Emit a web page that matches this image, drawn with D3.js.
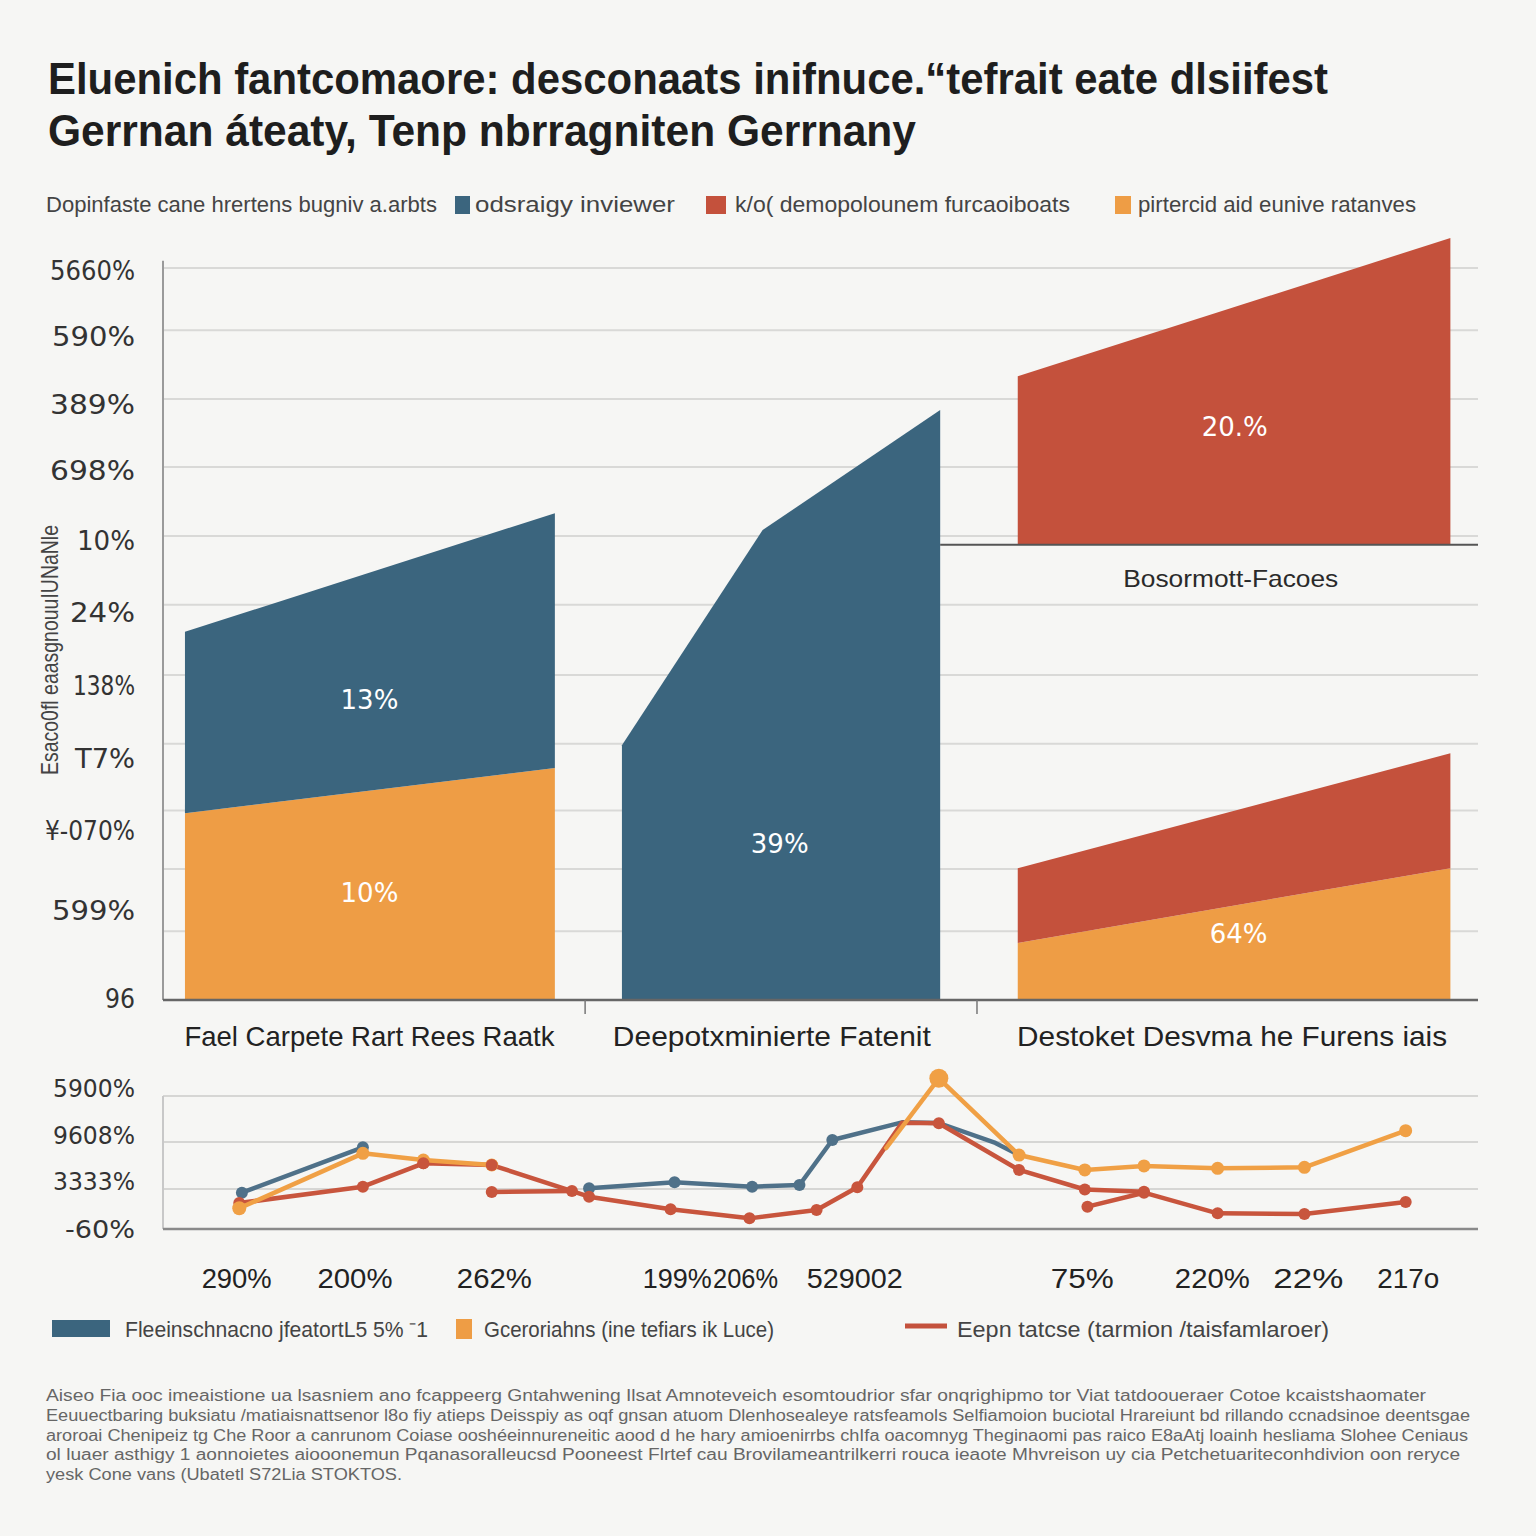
<!DOCTYPE html>
<html><head><meta charset="utf-8">
<script src="https://cdn.jsdelivr.net/npm/d3@7"></script>
<style>
html,body{margin:0;padding:0;background:#f6f6f4;}
svg{display:block;}
</style></head>
<body>
<svg id="chart" width="1536" height="1536"></svg>
<script>
// ---------- DATA ----------
const titleLines = ["Eluenich fantcomaore: desconaats inifnuce.“tefrait eate dlsiifest",
                    "Gerrnan áteaty, Tenp nbrragniten Gerrnany"];
const legendTop = [
  {label:"odsraigy inviewer", color:"#3b657e"},
  {label:"k/o( demopolounem furcaoiboats", color:"#c4513c"},
  {label:"pirtercid aid eunive ratanves", color:"#ee9d45"}
];
const legendTopLead = "Dopinfaste cane hrertens bugniv a.arbts";
const yAxisTitle = "Esaco0fl eaasgnouuIUNaNle";

// top chart
const topGrid = [100, 91.5, 82.1, 72.8, 63.4, 54.0, 44.4, 35.0, 25.9, 17.9, 9.4];
const topTickVals = [99.7, 90.7, 81.4, 72.4, 62.8, 53, 43, 33, 23.2, 12.3, 0.3];
const topTickLabels = ["5660%", "590%", "389%", "698%", "10%", "24%", "138%", "T7%", "¥-070%", "599%", "96"];
const topTickWidths = [85, 83, 85, 85, 58, 65, 62, 60, 90, 83, 30];
const groups = ["Fael Carpete Rart Rees Raatk", "Deepotxminierte Fatenit", "Destoket  Desvma he Furens iais"];
const groupCenters = [15.7, 46.3, 81.3];
const groupSeparators = [32.1, 61.9];

// group 1 (stacked): orange bottom, blue top
const g1x = [1.67, 29.8];
const g1orange = [25.5, 31.7];
const g1blue = [24.8, 34.8];      // stacked increments on top of orange
// group 2 (single blue)
const g2x = [34.9, 45.6, 59.1];
const g2blue = [34.8, 64.2, 80.6];
// group 3 upper: red band above a baseline
const g3x = [65.0, 97.9];
const g3base = 62.2;
const g3upperRed = [85.2, 104.1];
const g3baseSpan = [59.1, 100];
const g3baseLabel = "Bosormott-Facoes";
// group 3 lower (stacked): orange bottom, red top
const g3orange = [7.8, 18.0];
const g3red = [10.2, 15.7];
const valueLabels = [
  {text:"13%", x:15.7, y:41}, {text:"10%", x:15.7, y:14.6},
  {text:"39%", x:46.9, y:21.3}, {text:"20.%", x:81.5, y:78.3},
  {text:"64%", x:81.8, y:9.1}
];

// bottom line chart
const botGrid = [0, 30, 65.4, 100];
const botTickVals = [106, 71, 36, 0];
const botTickLabels = ["5900%", "9608%", "3333%", "-60%"];
const xTickVals = [5.6, 14.6, 25.2, 39.1, 44.3, 52.6, 69.9, 79.8, 87.1, 94.7];
const xTickLabels = ["290%", "200%", "262%", "199%", "206%", "529002", "75%", "220%", "22%", "217o"];
const xTickWidths = [70, 75, 75, 69, 65, 96, 63, 75, 70, 62];

const blueT   = [6.0, 15.2, null, 32.4, 38.9, 44.8, 48.4, 50.9, 56.2, 59.0, 63.3, 65.1];
const blueV   = [27.3, 61.4, null, 30.6, 35.1, 31.8, 33.1, 66.9, 80.2, 79.7, 64.7, 55.6];
const blueDot = [1, 1, 0, 1, 1, 1, 1, 1, 0, 0, 0, 0];
const orangeT = [5.8, 15.2, 19.8, 25.0, null, 55.0, 59.0, 65.1, 70.1, 74.6, 80.2, 86.8, 94.5];
const orangeV = [15.6, 56.9, 51.9, 48.1, null, 60.9, 113.3, 55.6, 44.4, 47.4, 45.6, 46.4, 73.9];
const orangeDot = [1, 1, 1, 1, 0, 0, 1, 1, 1, 1, 1, 1, 1];
const redAT   = [5.8, 15.2, 19.8, 25.0, 32.4, 38.6, 44.6, 49.7, 52.8, 56.2, 59.0, 65.1, 70.1, 74.6];
const redAV   = [19.5, 31.8, 49.4, 48.1, 24.3, 14.8, 8.0, 14.3, 31.4, 79.8, 79.5, 44.4, 29.7, 28.0];
const redADot = [1, 1, 1, 1, 1, 1, 1, 1, 1, 0, 1, 1, 1, 1];
const redBT   = [25.0, 31.1, null, 70.3, 74.6, 80.2, 86.8, 94.5];
const redBV   = [27.8, 28.6, null, 16.8, 27.3, 11.8, 11.3, 20.3];

const legendBottom = [
  {label:"Fleeinschnacno jfeatortL5 5%  ⁻1", color:"#3b657e"},
  {label:"Gceroriahns (ine tefiars ik Luce)", color:"#ee9d45"},
  {label:"Eepn tatcse (tarmion /taisfamlaroer)", color:"#c4513c"}
];
const footLines = [
 "Aiseo Fia ooc imeaistione ua lsasniem ano fcappeerg Gntahwening Ilsat Amnoteveich esomtoudrior sfar onqrighipmo tor Viat tatdooueraer Cotoe kcaistshaomater",
 "Eeuuectbaring buksiatu /matiaisnattsenor l8o fiy atieps Deisspiy as oqf gnsan atuom Dlenhosealeye ratsfeamols  Selfiamoion buciotal Hrareiunt bd rillando ccnadsinoe deentsgae",
 "aroroai Chenipeiz tg Che Roor a canrunom Coiase ooshéeinnureneitic aood d   he hary amioenirrbs chIfa oacomnyg Theginaomi pas raico E8aAtj loainh hesliama Slohee Ceniaus",
 "ol luaer asthigy 1 aonnoietes aiooonemun Pqanasoralleucsd Pooneest Flrtef cau Brovilameantrilkerri rouca ieaote Mhvreison uy cia Petchetuariteconhdivion oon reryce",
 "yesk Cone vans (Ubatetl S72Lia STOKTOS."
];
const footWidths = [1380, 1424, 1422, 1414, 356];

// ---------- DRAW ----------
const C = {blue:"#3b657e", red:"#c4513c", orange:"#ee9d45", lblue:"#4f7189", lred:"#c8553d", lorange:"#f0a045"};
const svg = d3.select("#chart");
svg.append("rect").attr("width",1536).attr("height",1536).attr("fill","#f6f6f4");

function txt(g, s, x, y, opts) {
  const t = g.append("text").attr("x", x).attr("y", y).text(s);
  for (const k in opts) t.attr(k, opts[k]);
  return t;
}

// title
const tw = [1280, 868];
titleLines.forEach((s,i)=>{
  txt(svg, s, 48, 94 + i*52, {"font-family":"Liberation Sans, Arial, sans-serif","font-weight":"bold",
    "font-size":45, fill:"#1e1e1e", textLength:tw[i], lengthAdjust:"spacingAndGlyphs"});
});

// top legend
const legFont = {"font-family":"Liberation Sans, Arial, sans-serif","font-size":22, fill:"#444", lengthAdjust:"spacingAndGlyphs"};
txt(svg, legendTopLead, 46, 212, Object.assign({textLength:391}, legFont));
const ltPos = [{sx:455, sw:15, tx:475, tw:200},{sx:706, sw:20, tx:735, tw:335},{sx:1115, sw:16, tx:1138, tw:278}];
legendTop.forEach((d,i)=>{
  svg.append("rect").attr("x",ltPos[i].sx).attr("y",196).attr("width",ltPos[i].sw).attr("height",18).attr("fill",d.color);
  txt(svg, d.label, ltPos[i].tx, 212, Object.assign({textLength:ltPos[i].tw}, legFont));
});

// top chart scales
const x = d3.scaleLinear().domain([0,100]).range([163,1478]);
const y = d3.scaleLinear().domain([0,100]).range([1000,268]);

const gTop = svg.append("g");
gTop.selectAll("line.grid").data(topGrid).join("line")
  .attr("x1",x(0)).attr("x2",x(100)).attr("y1",d=>y(d)).attr("y2",d=>y(d))
  .attr("stroke","#d9d9d7").attr("stroke-width",2);

// y labels
gTop.selectAll("text.yt").data(topTickVals).join("text")
  .attr("x",135).attr("y",d=>y(d)).attr("dy","0.36em").attr("text-anchor","end")
  .attr("font-family","DejaVu Sans, sans-serif").attr("font-size",27).attr("fill","#333")
  .attr("textLength",(d,i)=>topTickWidths[i]).attr("lengthAdjust","spacingAndGlyphs")
  .text((d,i)=>topTickLabels[i]);

// y-axis title
txt(svg, yAxisTitle, 0, 0, {"font-family":"Liberation Sans, Arial, sans-serif","font-size":24, fill:"#444",
  "text-anchor":"middle", transform:"translate(58,650) rotate(-90)", textLength:250, lengthAdjust:"spacingAndGlyphs"});

const area = d3.area().x(d=>x(d.t)).y0(d=>y(d.y0)).y1(d=>y(d.y1));

// group 1
gTop.append("path").attr("fill",C.orange).attr("d", area(g1x.map((t,i)=>({t, y0:0, y1:g1orange[i]}))));
gTop.append("path").attr("fill",C.blue).attr("d", area(g1x.map((t,i)=>({t, y0:g1orange[i], y1:g1orange[i]+g1blue[i]}))));
// group 2
gTop.append("path").attr("fill",C.blue).attr("d", area(g2x.map((t,i)=>({t, y0:0, y1:g2blue[i]}))));
// group 3 upper
gTop.append("path").attr("fill",C.red).attr("d", area(g3x.map((t,i)=>({t, y0:g3base, y1:g3upperRed[i]}))));
gTop.append("line").attr("x1",x(g3baseSpan[0])).attr("x2",x(g3baseSpan[1])).attr("y1",y(g3base)).attr("y2",y(g3base))
  .attr("stroke","#555").attr("stroke-width",2);
txt(gTop, g3baseLabel, x(81.2), 587, {"font-family":"Liberation Sans, Arial, sans-serif","font-size":24, fill:"#2a2a2a",
  "text-anchor":"middle", textLength:215, lengthAdjust:"spacingAndGlyphs"});
// group 3 lower
gTop.append("path").attr("fill",C.orange).attr("d", area(g3x.map((t,i)=>({t, y0:0, y1:g3orange[i]}))));
gTop.append("path").attr("fill",C.red).attr("d", area(g3x.map((t,i)=>({t, y0:g3orange[i], y1:g3orange[i]+g3red[i]}))));

// value labels
gTop.selectAll("text.vl").data(valueLabels).join("text")
  .attr("x",d=>x(d.x)).attr("y",d=>y(d.y)).attr("dy","0.36em").attr("text-anchor","middle")
  .attr("font-family","DejaVu Sans, sans-serif").attr("font-size",26).attr("fill","#fff")
  .text(d=>d.text);

// axes lines
gTop.append("line").attr("x1",x(0)).attr("x2",x(0)).attr("y1",y(101)).attr("y2",y(0)).attr("stroke","#9a9a9a").attr("stroke-width",2);
gTop.append("line").attr("x1",x(0)).attr("x2",x(100)).attr("y1",y(0)).attr("y2",y(0)).attr("stroke","#666").attr("stroke-width",2.5);
gTop.selectAll("line.sep").data(groupSeparators).join("line")
  .attr("x1",d=>x(d)).attr("x2",d=>x(d)).attr("y1",y(0)).attr("y2",y(0)+14).attr("stroke","#777").attr("stroke-width",1.5);

// category labels
const catW = [370, 318, 430];
gTop.selectAll("text.cat").data(groups).join("text")
  .attr("x",(d,i)=>x(groupCenters[i])).attr("y",1046).attr("text-anchor","middle")
  .attr("font-family","Liberation Sans, Arial, sans-serif").attr("font-size",28).attr("fill","#222")
  .attr("textLength",(d,i)=>catW[i]).attr("lengthAdjust","spacingAndGlyphs")
  .text(d=>d);

// ---------- bottom chart ----------
const yb = d3.scaleLinear().domain([0,100]).range([1229,1096]);
const gBot = svg.append("g");
gBot.selectAll("line.bg").data(botGrid.slice(1)).join("line")
  .attr("x1",x(0)).attr("x2",x(100)).attr("y1",d=>yb(d)).attr("y2",d=>yb(d))
  .attr("stroke","#d6d6d4").attr("stroke-width",2);
gBot.append("line").attr("x1",x(0)).attr("x2",x(0)).attr("y1",yb(100)).attr("y2",yb(0)).attr("stroke","#c8c8c8").attr("stroke-width",2);
gBot.append("line").attr("x1",x(0)).attr("x2",x(100)).attr("y1",yb(0)).attr("y2",yb(0)).attr("stroke","#8a8a8a").attr("stroke-width",2.5);

const ybW = [82, 82, 82, 70];
gBot.selectAll("text.byt").data(botTickVals).join("text")
  .attr("x",135).attr("y",d=>yb(d)).attr("dy","0.36em").attr("text-anchor","end")
  .attr("font-family","DejaVu Sans, sans-serif").attr("font-size",25).attr("fill","#333")
  .attr("textLength",(d,i)=>ybW[i]).attr("lengthAdjust","spacingAndGlyphs")
  .text((d,i)=>botTickLabels[i]);

gBot.selectAll("text.bxt").data(xTickVals).join("text")
  .attr("x",d=>x(d)).attr("y",1288).attr("text-anchor","middle")
  .attr("font-family","Liberation Sans, Arial, sans-serif").attr("font-size",28).attr("fill","#222")
  .attr("textLength",(d,i)=>xTickWidths[i]).attr("lengthAdjust","spacingAndGlyphs")
  .text((d,i)=>xTickLabels[i]);

const bline = d3.line().defined(d=>d.t!==null).x(d=>x(d.t)).y(d=>yb(d.v));
function series(T, V, color, r, dots) {
  const pts = T.map((t,i)=>({t, v:V[i], dot: dots ? dots[i] : 1}));
  gBot.append("path").attr("d", bline(pts)).attr("fill","none").attr("stroke",color)
    .attr("stroke-width",4.5).attr("stroke-linejoin","round").attr("stroke-linecap","round");
  gBot.append("g").selectAll("circle").data(pts.filter(d=>d.t!==null && d.dot)).join("circle")
    .attr("cx",d=>x(d.t)).attr("cy",d=>yb(d.v)).attr("r",d=>r(d)).attr("fill",color);
}
series(blueT, blueV, C.lblue, ()=>6, blueDot);
series(redAT, redAV, C.lred, ()=>6, redADot);
series(orangeT, orangeV, C.lorange, d=> (d.v>100 ? 9.5 : (d.t<6 ? 7 : 6.5)), orangeDot);
series(redBT, redBV, C.lred, ()=>6);
// red dots of main series sitting on the orange line
gBot.append("g").selectAll("circle").data(redAT.map((t,i)=>({t, v:redAV[i]})).filter(d=>d.t>18 && d.t<26)).join("circle")
  .attr("cx",d=>x(d.t)).attr("cy",d=>yb(d.v)).attr("r",6).attr("fill",C.lred);

// bottom legend
const lbFont = {"font-family":"Liberation Sans, Arial, sans-serif","font-size":22, fill:"#444", lengthAdjust:"spacingAndGlyphs"};
svg.append("rect").attr("x",52).attr("y",1320).attr("width",58).attr("height",17).attr("fill",legendBottom[0].color);
txt(svg, legendBottom[0].label, 125, 1337, Object.assign({textLength:303}, lbFont));
svg.append("rect").attr("x",456).attr("y",1319).attr("width",16).attr("height",20).attr("fill",legendBottom[1].color);
txt(svg, legendBottom[1].label, 484, 1337, Object.assign({textLength:290}, lbFont));
svg.append("line").attr("x1",905).attr("x2",947).attr("y1",1326).attr("y2",1326).attr("stroke",legendBottom[2].color).attr("stroke-width",5);
txt(svg, legendBottom[2].label, 957, 1337, Object.assign({textLength:372}, lbFont));

// footnote
footLines.forEach((s,i)=>{
  txt(svg, s, 46, 1401 + i*19.8, {"font-family":"Liberation Sans, Arial, sans-serif","font-size":16, fill:"#666",
    textLength:footWidths[i], lengthAdjust:"spacingAndGlyphs"});
});
</script>
</body></html>
